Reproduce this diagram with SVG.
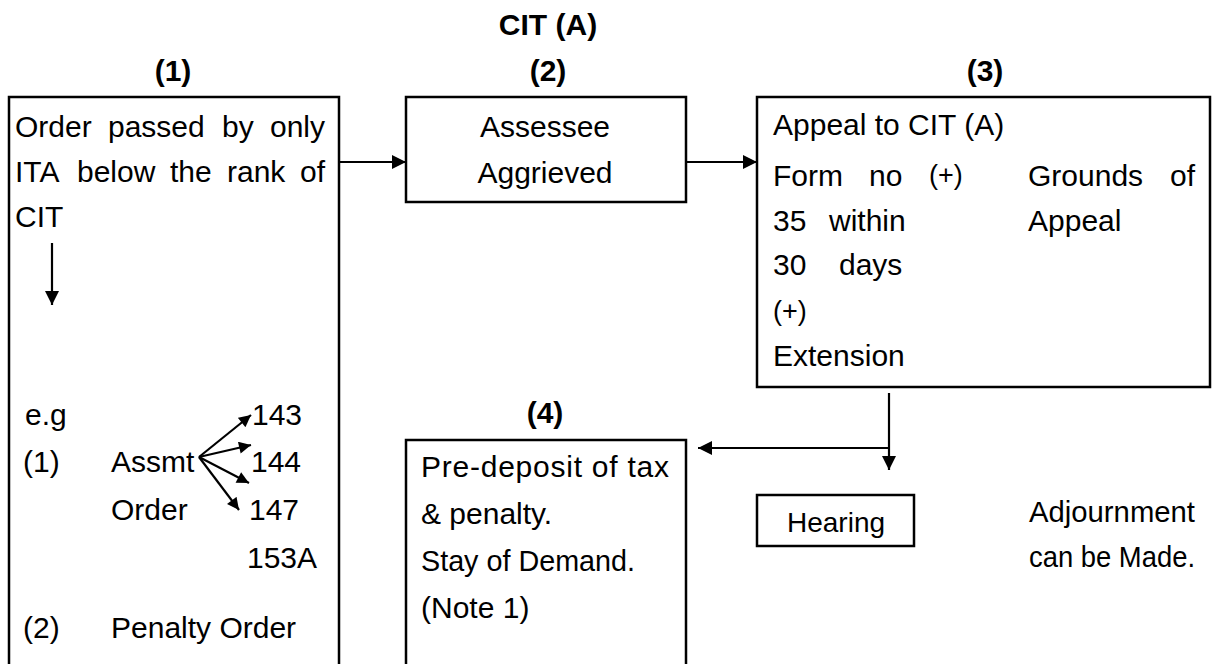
<svg xmlns="http://www.w3.org/2000/svg" width="1212" height="664" viewBox="0 0 1212 664">
<style>
.t{font-family:"Liberation Sans",Arial,sans-serif;font-size:30px;fill:#000}
.s{font-family:"Liberation Sans",Arial,sans-serif;font-size:27px;fill:#000}
.h{font-family:"Liberation Sans",Arial,sans-serif;font-size:30px;font-weight:bold;fill:#000;text-anchor:middle}
.box{fill:none;stroke:#000;stroke-width:2.5}
.ln{fill:none;stroke:#000;stroke-width:2.2}
.c{text-anchor:middle}
.e{text-anchor:end}
</style>
<defs>
<marker id="ah" viewBox="0 0 10 10" refX="10" refY="5" markerWidth="15" markerHeight="14" markerUnits="userSpaceOnUse" orient="auto">
<path d="M0,0 L10,5 L0,10 z" fill="#000"/>
</marker>
<marker id="ahs" viewBox="0 0 10 10" refX="10" refY="5" markerWidth="13" markerHeight="12" markerUnits="userSpaceOnUse" orient="auto">
<path d="M0,0 L10,5 L0,10 z" fill="#000"/>
</marker>
</defs>
<rect width="1212" height="664" fill="#fff"/>
<text class="h" x="548" y="35">CIT (A)</text>
<g id="node-1">
<text class="h" x="173" y="81">(1)</text>
<rect class="box" x="9" y="97" width="330" height="620"/>
<text class="t" x="15" y="137">Order</text>
<text class="t" x="108" y="137">passed</text>
<text class="t" x="222" y="137">by</text>
<text class="t e" x="325" y="137">only</text>
<text class="t" x="15" y="182">ITA</text>
<text class="t" x="77" y="182">below</text>
<text class="t" x="170" y="182">the</text>
<text class="t" x="227" y="182">rank</text>
<text class="t e" x="325" y="182">of</text>
<text class="t" x="15" y="227">CIT</text>
<text class="t" x="25" y="425">e.g</text>
<text class="t" x="23" y="472">(1)</text>
<text class="t" x="111" y="472">Assmt</text>
<text class="t" x="111" y="520">Order</text>
<text class="t" x="252" y="425">143</text>
<text class="t" x="251" y="472">144</text>
<text class="t" x="249" y="520">147</text>
<text class="t" x="247" y="568">153A</text>
<text class="t" x="23" y="638">(2)</text>
<text class="t" x="111" y="638">Penalty Order</text>
</g>
<g id="node-2">
<text class="h" x="548" y="81">(2)</text>
<rect class="box" x="406" y="97" width="280" height="105"/>
<text class="t c" x="545" y="137">Assessee</text>
<text class="t c" x="545" y="183">Aggrieved</text>
</g>
<g id="node-3">
<text class="h" x="985" y="81">(3)</text>
<rect class="box" x="757" y="97" width="453" height="290"/>
<text class="t" x="773" y="135">Appeal to CIT (A)</text>
<text class="t" x="773" y="186">Form</text>
<text class="t" x="869" y="186">no</text>
<text class="s" x="929" y="184">(+)</text>
<text class="t" x="1028" y="186">Grounds</text>
<text class="t e" x="1195" y="186">of</text>
<text class="t" x="773" y="231">35</text>
<text class="t" x="829" y="231">within</text>
<text class="t" x="1028" y="231">Appeal</text>
<text class="t" x="773" y="275">30</text>
<text class="t" x="839" y="275">days</text>
<text class="s" x="773" y="320">(+)</text>
<text class="t" x="773" y="366">Extension</text>
</g>
<g id="node-4">
<text class="h" x="545" y="423">(4)</text>
<rect class="box" x="406" y="440" width="280" height="300"/>
<text class="t" x="421" y="477" textLength="248" lengthAdjust="spacing">Pre-deposit of tax</text>
<text class="t" x="421" y="524">&amp; penalty.</text>
<text class="t" x="421" y="571" textLength="214" lengthAdjust="spacingAndGlyphs">Stay of Demand.</text>
<text class="t" x="421" y="618">(Note 1)</text>
</g>
<g id="node-hearing">
<rect class="box" x="757" y="495" width="157" height="51"/>
<text class="t c" x="836" y="532" style="font-size:28px">Hearing</text>
</g>
<g id="note-adjournment">
<text class="t" x="1029" y="522" textLength="166" lengthAdjust="spacingAndGlyphs">Adjournment</text>
<text class="t" x="1029" y="567" textLength="166" lengthAdjust="spacingAndGlyphs">can be Made.</text>
</g>
<g id="connectors">
<line class="ln" x1="339" y1="162" x2="406" y2="162" marker-end="url(#ah)"/>
<line class="ln" x1="686" y1="162" x2="757" y2="162" marker-end="url(#ah)"/>
<line class="ln" x1="52" y1="243" x2="52" y2="305" marker-end="url(#ah)"/>
<line class="ln" x1="889" y1="393" x2="889" y2="470" marker-end="url(#ah)"/>
<line class="ln" x1="889" y1="448" x2="698" y2="448" marker-end="url(#ah)"/>
<line class="ln" x1="199" y1="457" x2="251" y2="415" marker-end="url(#ahs)"/>
<line class="ln" x1="199" y1="457" x2="251" y2="445" marker-end="url(#ahs)"/>
<line class="ln" x1="199" y1="457" x2="249" y2="483" marker-end="url(#ahs)"/>
<line class="ln" x1="199" y1="457" x2="239" y2="510" marker-end="url(#ahs)"/>
</g>
</svg>
